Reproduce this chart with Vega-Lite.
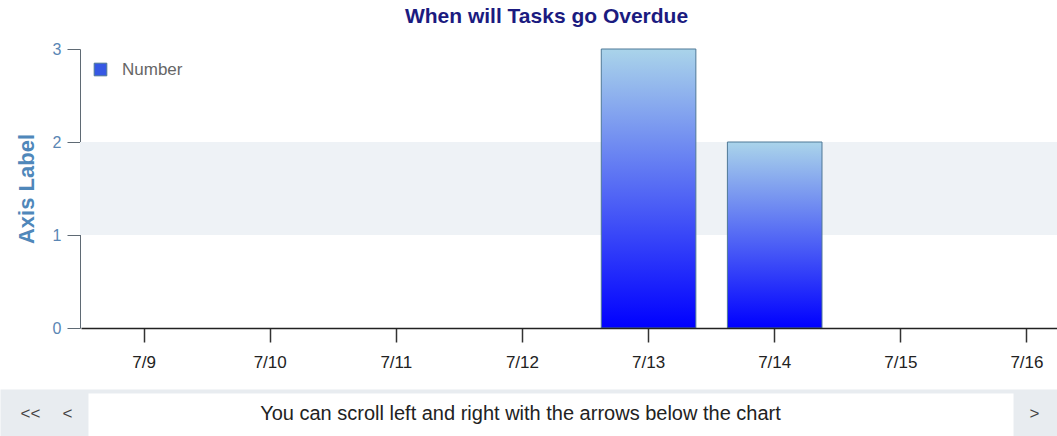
{
  "$schema": "https://vega.github.io/schema/vega-lite/v6.json",
  "width": 977,
  "height": 279,
  "autosize": {"type": "none"},
  "padding": {"left": 80, "top": 49, "right": 0, "bottom": 108},
  "background": "white",
  "title": {
    "text": "When will Tasks go Overdue",
    "font": "Liberation Sans",
    "fontSize": 21,
    "fontWeight": "bold",
    "color": "#1b1b80",
    "frame": "group",
    "anchor": "middle",
    "dx": -22,
    "offset": 14
  },
  "config": {
    "view": {"stroke": null},
    "font": "Liberation Sans"
  },
  "layer": [
    {
      "data": {"values": [{"from": 1, "to": 2}]},
      "mark": {"type": "rect", "color": "#eef2f6"},
      "encoding": {
        "y": {
          "field": "from",
          "type": "quantitative",
          "scale": {"domain": [0, 3], "nice": false, "zero": false},
          "axis": {
            "values": [0, 1, 2, 3],
            "format": "d",
            "title": "Axis Label",
            "titleFont": "Liberation Sans",
            "titleFontSize": 22,
            "titleFontWeight": "bold",
            "titleColor": "#4f87ba",
            "titlePadding": 14,
            "labelFont": "Liberation Sans",
            "labelFontSize": 16,
            "labelColor": "#5a86b4",
            "labelPadding": 6,
            "tickSize": 13,
            "tickColor": "#5f6a74",
            "domainColor": "#5f6a74",
            "grid": false
          }
        },
        "y2": {"field": "to"}
      }
    },
    {
      "data": {
        "values": [
          {"day": "7/9", "count": 0},
          {"day": "7/10", "count": 0},
          {"day": "7/11", "count": 0},
          {"day": "7/12", "count": 0},
          {"day": "7/13", "count": 3},
          {"day": "7/14", "count": 2},
          {"day": "7/15", "count": 0},
          {"day": "7/16", "count": 0}
        ]
      },
      "mark": {
        "type": "bar",
        "stroke": "#4f7896",
        "strokeWidth": 1,
        "fill": {
          "gradient": "linear",
          "x1": 0, "y1": 0, "x2": 0, "y2": 1,
          "stops": [
            {"offset": 0, "color": "#aad4ea"},
            {"offset": 1, "color": "#0000ff"}
          ]
        }
      },
      "encoding": {
        "x": {
          "field": "day",
          "type": "ordinal",
          "sort": null,
          "scale": {"range": [1, 1010], "paddingInner": 0.25, "paddingOuter": 0.125},
          "axis": {
            "title": "You can scroll left and right with the arrows below the chart",
            "titleFont": "Liberation Sans",
            "titleFontSize": 20,
            "titleFontWeight": "normal",
            "titleColor": "#222222",
            "titleX": 440,
            "titleY": 85,
            "titleAlign": "center",
            "titleBaseline": "middle",
            "labelAngle": 0,
            "labelFont": "Liberation Sans",
            "labelFontSize": 17,
            "labelColor": "#222222",
            "labelPadding": 12,
            "tickSize": 14,
            "tickColor": "#333333",
            "tickWidth": 1.5,
            "domainColor": "#222222",
            "domainWidth": 1.5,
            "grid": false,
            "zindex": 4
          }
        },
        "y": {"field": "count", "type": "quantitative"},
        "strokeOpacity": {
          "condition": {"test": "datum.count == 0", "value": 0},
          "value": 1
        }
      }
    },
    {
      "data": {"values": [{"series": "Number"}]},
      "mark": {"type": "square", "opacity": 0},
      "encoding": {
        "fill": {
          "field": "series",
          "type": "nominal",
          "scale": {"range": ["#3658e4"]},
          "legend": {
            "orient": "top-left",
            "offset": 12,
            "padding": 0,
            "title": null,
            "labelFont": "Liberation Sans",
            "labelFontSize": 17,
            "labelColor": "#666666",
            "labelOffset": 13,
            "symbolType": "square",
            "symbolSize": 160,
            "symbolOpacity": 1,
            "symbolStrokeColor": "#4f7896",
            "symbolStrokeWidth": 1
          }
        }
      }
    },
    {
      "data": {"values": [{}]},
      "mark": {"type": "point", "opacity": 0},
      "encoding": {
        "x": {
          "datum": 0,
          "type": "quantitative",
          "scale": {"domain": [0, 1057], "range": [-80, 977], "nice": false, "zero": false},
          "axis": {
            "orient": "bottom",
            "offset": 84.5,
            "domain": true,
            "domainColor": "#e8ecf0",
            "domainWidth": 47,
            "ticks": false,
            "labels": false,
            "grid": false,
            "title": null,
            "zindex": 1
          }
        }
      }
    },
    {
      "data": {"values": [{}]},
      "mark": {"type": "point", "opacity": 0},
      "encoding": {
        "x": {
          "datum": 0,
          "type": "quantitative",
          "scale": {"domain": [0, 1], "range": [8, 933], "nice": false, "zero": false},
          "axis": {
            "orient": "bottom",
            "offset": 86.5,
            "domain": true,
            "domainColor": "#ffffff",
            "domainWidth": 43,
            "ticks": false,
            "labels": false,
            "grid": false,
            "title": null,
            "zindex": 2
          }
        }
      }
    },
    {
      "data": {"values": [{}]},
      "mark": {"type": "point", "opacity": 0},
      "encoding": {
        "x": {
          "datum": 0,
          "type": "quantitative",
          "scale": {"domain": [0, 1057], "range": [-80, 977], "nice": false, "zero": false},
          "axis": {
            "orient": "bottom",
            "offset": 85,
            "domain": false,
            "ticks": false,
            "grid": false,
            "title": null,
            "values": [30, 67, 1034],
            "labelExpr": "datum.value < 50 ? '<<' : (datum.value < 100 ? '<' : '>')",
            "labelBaseline": "middle",
            "labelPadding": 0,
            "labelFont": "Liberation Sans",
            "labelFontSize": 17,
            "labelColor": "#444444",
            "labelFlush": false,
            "labelOverlap": false,
            "labelBound": false,
            "zindex": 3
          }
        }
      }
    }
  ],
  "resolve": {"scale": {"x": "independent"}, "axis": {"x": "independent"}}
}
